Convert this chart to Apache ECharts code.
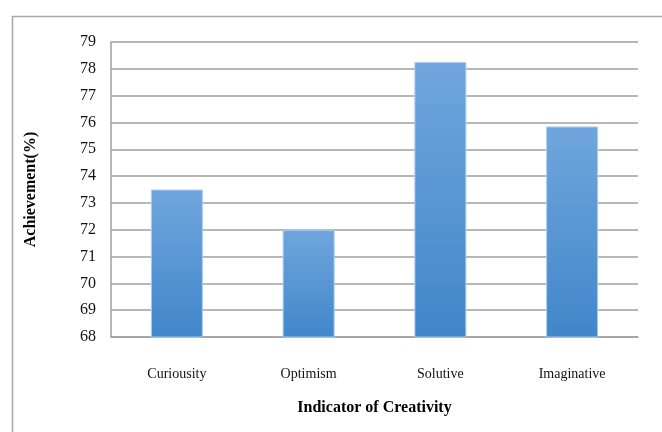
<!DOCTYPE html>
<html>
<head>
<meta charset="utf-8">
<script src="https://cdn.jsdelivr.net/npm/echarts@6/dist/echarts.min.js"></script>
<style>html,body{margin:0;padding:0;background:#fff}#c{width:662px;height:432px}</style>
</head>
<body>
<div id="c"></div>
<script>
var categories = ['Curiousity', 'Optimism', 'Solutive', 'Imaginative'];
var achievement = [73.5, 72.0, 78.25, 75.85];
var yMin = 68, yMax = 79, yStep = 1;
var xTitle = 'Indicator of Creativity';
var yTitle = 'Achievement(%)';

var chart = echarts.init(document.getElementById('c'), null, {renderer: 'canvas'});
var serif = '"Liberation Serif", "DejaVu Serif", serif';
chart.setOption({
  animation: false,
  backgroundColor: '#fff',
  graphic: [{
    type: 'rect', left: 10, top: 14,
    shape: {width: 700, height: 500},
    style: {fill: 'none', stroke: '#a8a8a8', lineWidth: 1.5},
    silent: true, z: -1
  }],
  grid: {left: 111, right: 24, top: 42, bottom: 95, containLabel: false},
  xAxis: {
    type: 'category',
    data: categories,
    name: xTitle,
    nameLocation: 'middle',
    nameGap: 63,
    nameTextStyle: {fontFamily: serif, fontSize: 16, fontWeight: 'bold', color: '#000'},
    axisLine: {show: true, lineStyle: {color: '#a0a0a0', width: 1.5}},
    axisTick: {show: false},
    axisLabel: {fontFamily: serif, fontSize: 14, color: '#111', margin: 30}
  },
  yAxis: {
    type: 'value',
    min: yMin, max: yMax, interval: yStep,
    name: yTitle,
    nameLocation: 'middle',
    nameGap: 72,
    nameRotate: 90,
    nameTextStyle: {fontFamily: serif, fontSize: 16, fontWeight: 'bold', color: '#000'},
    axisLine: {show: true, lineStyle: {color: '#a0a0a0', width: 1.5}},
    axisTick: {show: false},
    axisLabel: {fontFamily: serif, fontSize: 16, color: '#111', margin: 15},
    splitLine: {show: true, lineStyle: {color: '#a0a0a0', width: 1.5}}
  },
  series: [{
    type: 'bar',
    data: achievement,
    barWidth: 52,
    itemStyle: {
      color: new echarts.graphic.LinearGradient(0, 0, 0, 1, [
        {offset: 0, color: '#70a6dd'},
        {offset: 1, color: '#4186ca'}
      ]),
      borderColor: '#a9cdf0',
      borderWidth: 1
    }
  }]
});
</script>
</body>
</html>
